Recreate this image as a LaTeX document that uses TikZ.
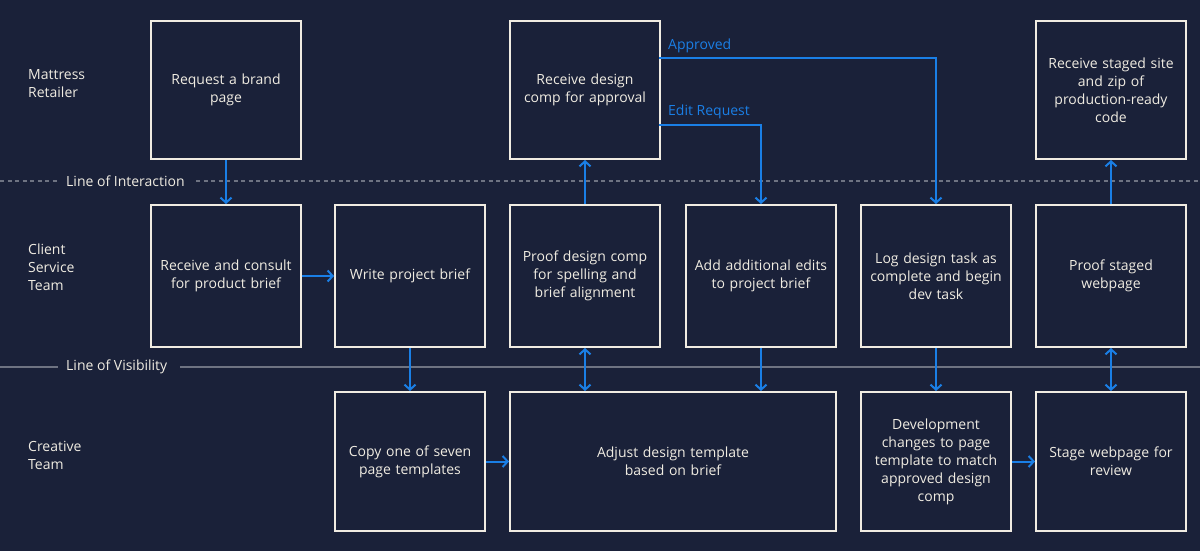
\documentclass[tikz,border=0pt]{standalone}
\usepackage{fontspec}
\setmainfont{Open Sans}
\usetikzlibrary{arrows.meta}
\definecolor{bg}{HTML}{1A2139}
\definecolor{cream}{HTML}{F0ECE2}
\definecolor{flow}{HTML}{1A7FE6}
\definecolor{rule}{HTML}{6E7382}
\tikzset{
  stepbox/.style={draw=cream, line width=2pt, text=cream, align=center, anchor=north west,
    font=\fontsize{14}{18}\selectfont, inner sep=0pt},
  lane/.style={text=cream, align=left, anchor=west, font=\fontsize{14}{18}\selectfont, inner sep=0pt},
  ruletext/.style={text=cream, anchor=west, font=\fontsize{14}{18}\selectfont, inner sep=0pt},
  flowarrow/.style={draw=flow, line width=2pt, -{Straight Barb[length=5pt,width=11pt,line width=2pt]}},
  flowboth/.style={draw=flow, line width=2pt, {Straight Barb[length=5pt,width=11pt,line width=2pt]}-{Straight Barb[length=5pt,width=11pt,line width=2pt]}},
  flowlabel/.style={text=flow, anchor=west, font=\fontsize{14}{18}\selectfont, inner sep=0pt}
}
\begin{document}
\begin{tikzpicture}[x=1pt,y=-1pt]
\fill[bg] (0,0) rectangle (1200,551);
\useasboundingbox (0,0) rectangle (1200,551);

% lane labels
\node[lane] (l1) at (28,84) {Mattress\\Retailer};
\node[lane] (l2) at (28,267) {Client\\Service\\Team};
\node[lane] (l3) at (28,455) {Creative\\Team};

% rule lines
\node[ruletext] (loi) at (66,181) {Line of Interaction};
\node[ruletext] (lov) at (66,367) {Line of Visibility};
\coordinate (i0) at (0,181); \coordinate (i1) at (1200,181);
\coordinate (v0) at (0,367); \coordinate (v1) at (1200,367);
\draw[rule, line width=1.5pt, dash pattern=on 4pt off 3.5pt] (i0) -- (58,181);
\draw[rule, line width=1.5pt, dash pattern=on 4pt off 3.5pt] (196,181) -- (i1);
\draw[rule, line width=1.5pt] (v0) -- (58,367);
\draw[rule, line width=1.5pt] (180,367) -- (v1);

% row 1
\node[stepbox, minimum width=150pt, minimum height=138pt, text width=144pt] (a1) at (150,20) {Request a brand\\page};
\node[stepbox, minimum width=150pt, minimum height=138pt, text width=144pt] (a2) at (509,20) {Receive design\\comp for approval};
\node[stepbox, minimum width=150pt, minimum height=138pt, text width=144pt] (a3) at (1035,20) {Receive staged site\\and zip of\\production-ready\\code};

% row 2
\node[stepbox, minimum width=150pt, minimum height=142pt, text width=144pt] (b1) at (150,204) {Receive and consult\\for product brief};
\node[stepbox, minimum width=150pt, minimum height=142pt, text width=144pt] (b2) at (334,204) {Write project brief};
\node[stepbox, minimum width=150pt, minimum height=142pt, text width=144pt] (b3) at (509,204) {Proof design comp\\for spelling and\\brief alignment};
\node[stepbox, minimum width=150pt, minimum height=142pt, text width=144pt] (b4) at (685,204) {Add additional edits\\to project brief};
\node[stepbox, minimum width=150pt, minimum height=142pt, text width=144pt] (b5) at (860,204) {Log design task as\\complete and begin\\dev task};
\node[stepbox, minimum width=150pt, minimum height=142pt, text width=144pt] (b6) at (1035,204) {Proof staged\\webpage};

% row 3
\node[stepbox, minimum width=150pt, minimum height=139pt, text width=144pt] (c1) at (334,391) {Copy one of seven\\page templates};
\node[stepbox, minimum width=326pt, minimum height=139pt, text width=320pt] (c2) at (509,391) {Adjust design template\\based on brief};
\node[stepbox, minimum width=150pt, minimum height=139pt, text width=144pt] (c3) at (860,391) {Development\\changes to page\\template to match\\approved design\\comp};
\node[stepbox, minimum width=150pt, minimum height=139pt, text width=144pt] (c4) at (1035,391) {Stage webpage for\\review};

% arrows
\draw[flowarrow] (a1.south) -- (b1.north);
\draw[flowarrow] (b1.east) -- (b2.west);
\draw[flowarrow] (b2.south) -- (c1.north);
\draw[flowarrow] (c1.east) -- (c2.west |- c1.east);
\draw[flowboth] (b3.south) -- (b3.south |- c2.north);
\draw[flowarrow] (b3.north) -- (a2.south);
\coordinate (ap) at (659,58);
\coordinate (er) at (659,125);
\draw[flowarrow] (ap) -- (b5.north |- ap) -- (b5.north);
\draw[flowarrow] (er) -- (b4.north |- er) -- (b4.north);
\node[flowlabel] (apl) at (668,45.5) {Approved};
\node[flowlabel] (erl) at (668,111.5) {Edit Request};
\draw[flowarrow] (b4.south) -- (b4.south |- c2.north);
\draw[flowarrow] (b5.south) -- (c3.north);
\draw[flowarrow] (c3.east) -- (c4.west);
\draw[flowboth] (b6.south) -- (c4.north);
\draw[flowarrow] (b6.north) -- (a3.south);
\end{tikzpicture}
\end{document}
